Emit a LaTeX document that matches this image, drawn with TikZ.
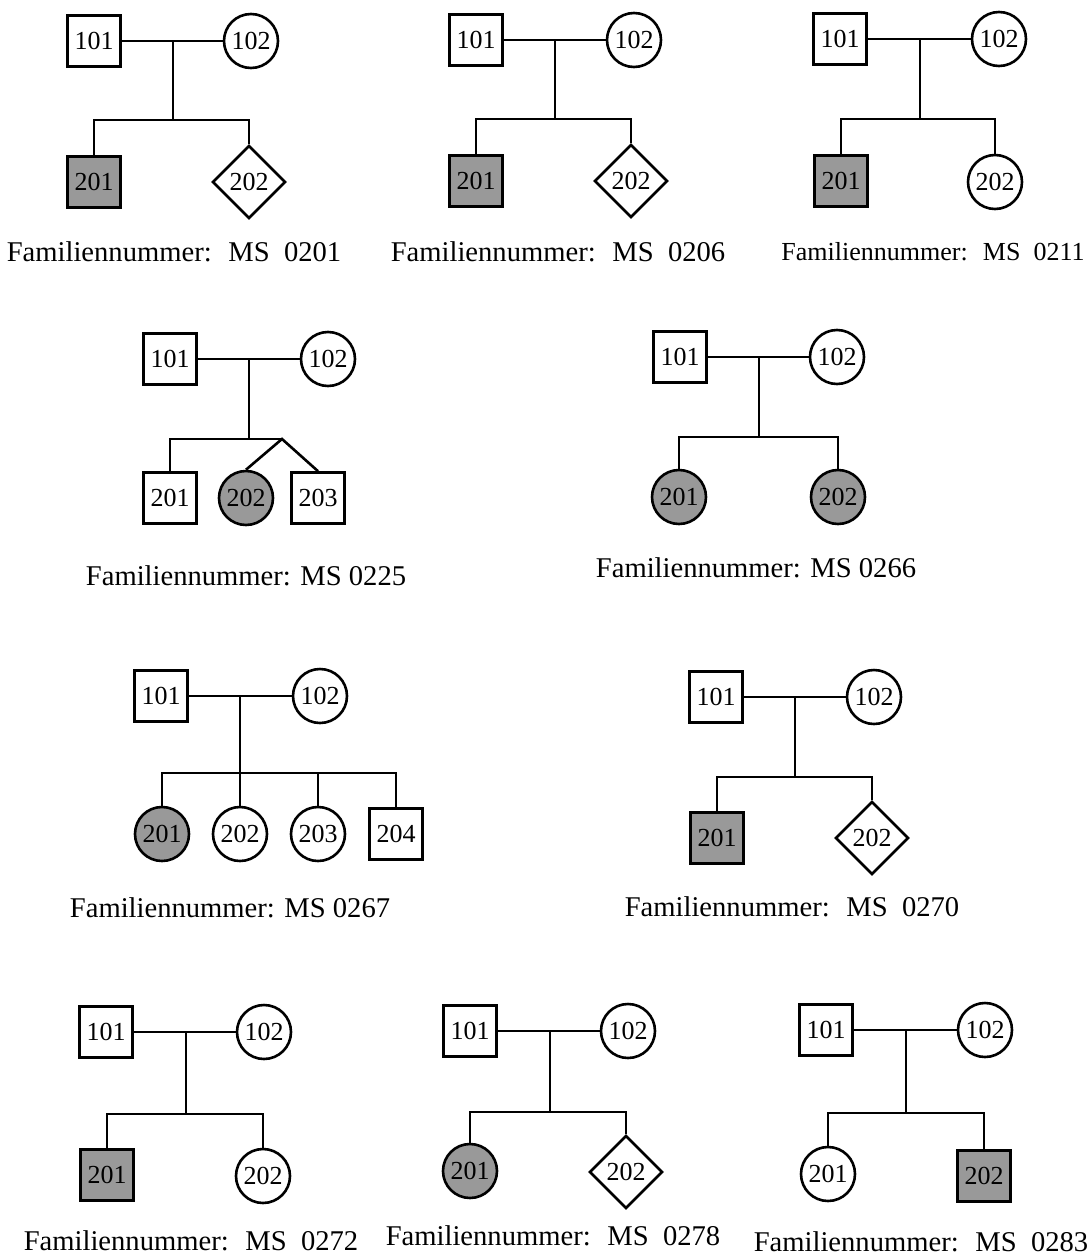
\documentclass[tikz,border=0pt]{standalone}
\usepackage{fontspec}
\setmainfont{Liberation Serif}
\usetikzlibrary{shapes.geometric}
\definecolor{Affected}{HTML}{999999}

\begin{document}
\begin{tikzpicture}[x=.5pt,y=-.5pt,line width=1.3pt,
    male/.style={draw,rectangle,minimum width=26.5pt,minimum height=25.5pt,inner sep=0pt,font=\fontsize{13}{15}\selectfont},
    female/.style={draw,circle,minimum size=27pt,inner sep=0pt,font=\fontsize{13}{15}\selectfont},
    sexunk/.style={draw,diamond,minimum width=36.5pt,minimum height=36.5pt,inner sep=0pt,font=\fontsize{13}{15}\selectfont},
    aff/.style={fill=Affected},
    famlabel/.style={font=\fontsize{14.3}{17}\selectfont}]
        \useasboundingbox(0,0)rectangle(1087,1258);
        % MS 0201
        \node[male](a1)at(94,41){101};
        \node[female](a2)at(251,41){102};
        \node[male,aff](a3)at(94,182){201};
        \node[sexunk](a4)at(249,182){202};
        \coordinate(as)at(173,120);
        \draw(a1)--(a2);
        \draw(as)--(as|-a1);
        \draw(a3)|-(as)-|(a4);
        \node[famlabel](la)at(174,252){Familiennummer:~ MS~ 0201};
        % MS 0206
        \node[male](b1)at(476,40){101};
        \node[female](b2)at(634,40){102};
        \node[male,aff](b3)at(476,181){201};
        \node[sexunk](b4)at(631,181){202};
        \coordinate(bs)at(555,119);
        \draw(b1)--(b2);
        \draw(bs)--(bs|-b1);
        \draw(b3)|-(bs)-|(b4);
        \node[famlabel](lb)at(558,252){Familiennummer:~ MS~ 0206};
        % MS 0211
        \node[male](c1)at(840,39){101};
        \node[female](c2)at(999,39){102};
        \node[male,aff](c3)at(841,181){201};
        \node[female](c4)at(995,182){202};
        \coordinate(cs)at(920,119);
        \draw(c1)--(c2);
        \draw(cs)--(cs|-c1);
        \draw(c3)|-(cs)-|(c4);
        \node[famlabel,font=\fontsize{13}{15}\selectfont](lc)at(933,252){Familiennummer:~ MS~ 0211};
        % MS 0225
        \node[male](d1)at(170,359){101};
        \node[female](d2)at(328,359){102};
        \node[male](d3)at(170,498){201};
        \node[female,aff](d4)at(246,498){202};
        \node[male](d5)at(318,498){203};
        \coordinate(ds)at(249,439);
        \coordinate(dt)at(282,439);
        \draw(d1)--(d2);
        \draw(ds)--(ds|-d1);
        \draw(d3)|-(dt);
        \draw(d4.north)--(dt)--(d5.north);
        \node[famlabel](ld)at(246,576){Familiennummer: MS 0225};
        % MS 0266
        \node[male](e1)at(680,357){101};
        \node[female](e2)at(837,357){102};
        \node[female,aff](e3)at(679,497){201};
        \node[female,aff](e4)at(838,497){202};
        \coordinate(es)at(759,437);
        \draw(e1)--(e2);
        \draw(es)--(es|-e1);
        \draw(e3)|-(es)-|(e4);
        \node[famlabel](le)at(756,568){Familiennummer: MS 0266};
        % MS 0267
        \node[male](f1)at(161,696){101};
        \node[female](f2)at(320,696){102};
        \node[female,aff](f3)at(162,834){201};
        \node[female](f4)at(240,834){202};
        \node[female](f5)at(318,834){203};
        \node[male](f6)at(396,834){204};
        \coordinate(fs)at(240,773);
        \draw(f1)--(f2);
        \draw(fs)--(fs|-f1);
        \draw(f3)|-(fs)-|(f6);
        \draw(f4)--(f4|-fs);
        \draw(f5)--(f5|-fs);
        \node[famlabel](lf)at(230,908){Familiennummer: MS 0267};
        % MS 0270
        \node[male](g1)at(716,697){101};
        \node[female](g2)at(874,697){102};
        \node[male,aff](g3)at(717,838){201};
        \node[sexunk](g4)at(872,838){202};
        \coordinate(gs)at(795,777);
        \draw(g1)--(g2);
        \draw(gs)--(gs|-g1);
        \draw(g3)|-(gs)-|(g4);
        \node[famlabel](lg)at(792,907){Familiennummer:~ MS~ 0270};
        % MS 0272
        \node[male](h1)at(106,1032){101};
        \node[female](h2)at(264,1032){102};
        \node[male,aff](h3)at(107,1175){201};
        \node[female](h4)at(263,1176){202};
        \coordinate(hs)at(186,1114);
        \draw(h1)--(h2);
        \draw(hs)--(hs|-h1);
        \draw(h3)|-(hs)-|(h4);
        \node[famlabel](lh)at(191,1241){Familiennummer:~ MS~ 0272};
        % MS 0278
        \node[male](i1)at(470,1031){101};
        \node[female](i2)at(628,1031){102};
        \node[female,aff](i3)at(470,1171){201};
        \node[sexunk](i4)at(626,1172){202};
        \coordinate(is)at(550,1112);
        \draw(i1)--(i2);
        \draw(is)--(is|-i1);
        \draw(i3)|-(is)-|(i4);
        \node[famlabel](li)at(553,1236){Familiennummer:~ MS~ 0278};
        % MS 0283
        \node[male](j1)at(826,1030){101};
        \node[female](j2)at(985,1030){102};
        \node[female](j3)at(828,1174){201};
        \node[male,aff](j4)at(984,1176){202};
        \coordinate(js)at(906,1113);
        \draw(j1)--(j2);
        \draw(js)--(js|-j1);
        \draw(j3)|-(js)-|(j4);
        \node[famlabel](lj)at(921,1242){Familiennummer:~ MS~ 0283};
      \end{tikzpicture}
\end{document}
